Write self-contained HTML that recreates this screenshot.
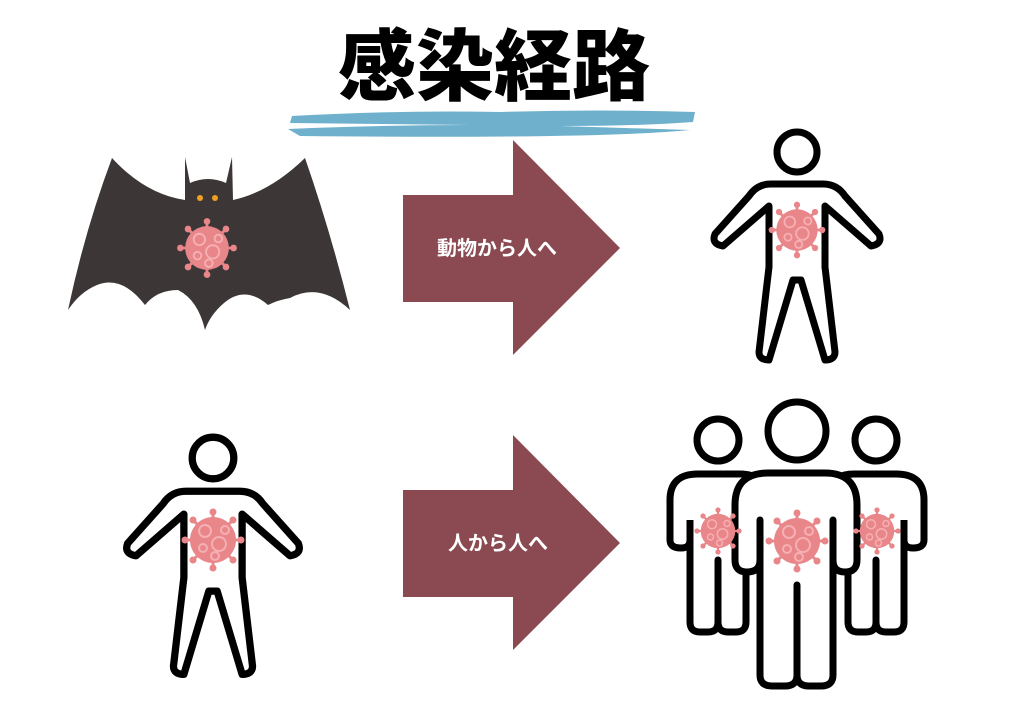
<!DOCTYPE html>
<html><head><meta charset="utf-8"><style>
html,body{margin:0;padding:0;background:#fff;}
svg{display:block;}
</style></head><body>
<svg width="1024" height="724" viewBox="0 0 1024 724" xmlns="http://www.w3.org/2000/svg">
<defs>
<g id="virus">
  <g stroke="#e8868a" stroke-width="3" stroke-linecap="round">
    <line x1="0" y1="-28" x2="0" y2="28"/><line x1="-28" y1="0" x2="28" y2="0"/>
    <line x1="-20" y1="-20" x2="20" y2="20"/><line x1="-20" y1="20" x2="20" y2="-20"/>
  </g>
  <g fill="#e8868a">
    <circle r="3.5" cx="0" cy="-28"/><circle r="3.5" cx="0" cy="28"/><circle r="3.5" cx="-28" cy="0"/><circle r="3.5" cx="28" cy="0"/>
    <circle r="3.5" cx="-20" cy="-20"/><circle r="3.5" cx="20" cy="20"/><circle r="3.5" cx="-20" cy="20"/><circle r="3.5" cx="20" cy="-20"/>
    <circle r="23"/>
  </g>
  <g fill="none" stroke="#f6b0b3" stroke-width="2">
    <circle cx="-8" cy="-9" r="6"/><circle cx="6" cy="4" r="7"/><circle cx="-10" cy="8" r="4"/><circle cx="12" cy="-10" r="4"/><circle cx="2" cy="16" r="4"/>
  </g>
</g>
<g id="person">
  <circle cx="0" cy="0" r="20" fill="#fff" stroke="#000" stroke-width="7"/>
  <path d="M -26,32 L 26,32 Q 40,32 48,44 L 82,82 Q 86,92 74,94 L 28,54 L 28,115 L 38,200 Q 38,208 28,208 L 4,128 L -4,128 L -28,208 Q -38,208 -38,200 L -28,115 L -28,54 L -74,94 Q -86,92 -82,82 L -48,44 Q -40,32 -26,32 Z" fill="#fff" stroke="#000" stroke-width="7" stroke-linejoin="round"/>
</g>
</defs>

<!-- title -->
<path d="M292,116 Q400,110 500,112 Q600,109 695,112 L693,122 Q640,126 560,126 L690,130 Q600,139 300,136 L288,129 Q380,125 470,125 L290,123 Z" fill="#6fb0cc"/>
<text x="494" y="94" text-anchor="middle" font-family="'Liberation Sans','Noto Sans CJK JP',sans-serif" font-weight="900" font-size="78" fill="#000">感染経路</text>

<!-- bat -->
<path d="M185,157 L190,183 Q208,175 226,183 L232,157 L233,200 Q270,192 305,158 Q330,230 350,310 Q320,282 290,298 Q278,300 268,305 Q245,285 224,303 Q210,315 205,330 Q198,300 178,290 Q157,290 145,305 Q122,275 97,285 Q80,292 68,310 Q85,230 112,158 Q145,194 185,200 Z" fill="#3d3636"/>
<circle cx="200" cy="198" r="3" fill="#f0a020"/><circle cx="215" cy="198" r="3" fill="#f0a020"/>
<use href="#virus" transform="translate(207,248) scale(0.95)"/>

<!-- arrows -->
<path d="M403,195 L513,195 L513,140 L620,248 L513,355 L513,302 L403,302 Z" fill="#8b4a52"/>
<path d="M403,490 L513,490 L513,435 L620,543 L513,650 L513,597 L403,597 Z" fill="#8b4a52"/>
<text x="497" y="255" text-anchor="middle" font-family="'Liberation Sans','Noto Sans CJK JP',sans-serif" font-weight="bold" font-size="20" fill="#fff">動物から人へ</text>
<text x="498" y="550" text-anchor="middle" font-family="'Liberation Sans','Noto Sans CJK JP',sans-serif" font-weight="bold" font-size="20" fill="#fff">人から人へ</text>

<!-- single persons -->
<use href="#person" transform="translate(797,152)"/>
<use href="#virus" transform="translate(797,230) scale(0.9)"/>
<use href="#person" transform="translate(213,458) scale(1.04)"/>
<use href="#virus" transform="translate(213,540) scale(1.0)"/>

<!-- group -->
<g fill="#fff" stroke="#000" stroke-width="7" stroke-linejoin="round">
  <circle cx="718" cy="440" r="21"/>
  <circle cx="876" cy="440" r="21"/>
  <path d="M690,520 L690,622 Q690,632 700,632 L708,632 Q718,632 718,622 L718,560 L718,622 Q718,632 728,632 L736,632 Q746,632 746,622 L746,520 M690,520 L690,540 Q690,548 681,548 Q670,548 670,540 L670,500 Q670,474 698,474 L740,474 Q760,474 768,490 L768,560 L746,560 L746,520"/>
  <path d="M904,520 L904,622 Q904,632 894,632 L886,632 Q876,632 876,622 L876,560 L876,622 Q876,632 866,632 L858,632 Q848,632 848,622 L848,520 M904,520 L904,540 Q904,548 913,548 Q924,548 924,540 L924,500 Q924,474 896,474 L854,474 Q834,474 826,490 L826,560 L848,560 L848,520"/>
  <circle cx="797" cy="431" r="29"/>
  <path d="M760,520 L760,675 Q760,686 772,686 L785,686 Q797,686 797,675 L797,585 L797,675 Q797,686 809,686 L821,686 Q833,686 833,675 L833,520 L833,560 Q833,572 845,572 Q857,572 857,560 L857,505 Q857,473 825,473 L768,473 Q735,473 735,505 L735,560 Q735,572 747,572 Q760,572 760,560 Z"/>
</g>
<use href="#virus" transform="translate(718,531) scale(0.75)"/>
<use href="#virus" transform="translate(877,531) scale(0.75)"/>
<use href="#virus" transform="translate(797,541) scale(1.0)"/>
</svg>
</body></html>
